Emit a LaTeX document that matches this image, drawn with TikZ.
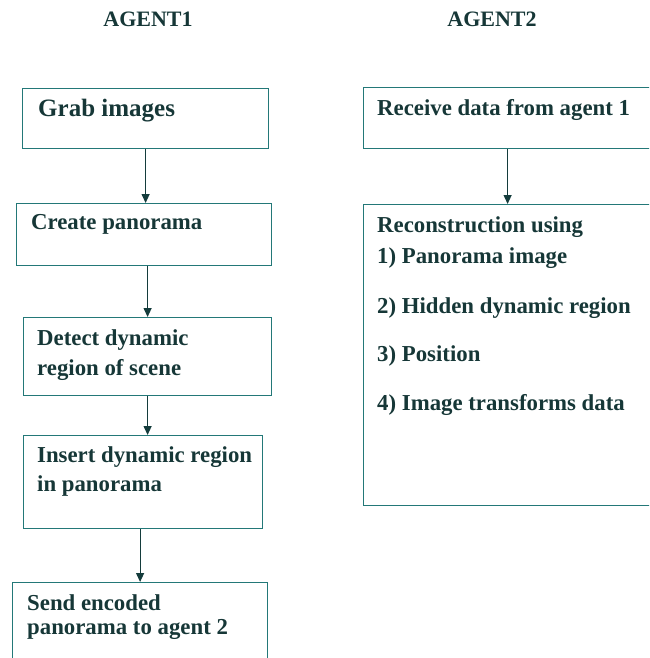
\documentclass[tikz,border=0pt]{standalone}
\usepackage{fontspec}
\setmainfont{Liberation Serif}
\usetikzlibrary{arrows.meta}
\definecolor{boxline}{RGB}{35,120,120}
\definecolor{inktext}{RGB}{22,55,55}
\definecolor{inkarrow}{RGB}{20,60,60}
\tikzset{
  box/.style={draw=boxline,line width=1.2pt,anchor=north west,inner sep=0pt},
  txt/.style={anchor=base west,inner sep=0pt,text=inktext,font=\fontsize{22.8}{26}\selectfont\bfseries},
  head/.style={anchor=base,inner sep=0pt,text=inktext,font=\fontsize{22}{26}\selectfont\bfseries},
  flow/.style={draw=inkarrow,line width=1.2pt,-{Triangle[width=8pt,length=9pt]}}
}
\begin{document}
\begin{tikzpicture}[x=1pt,y=-1pt]
  \useasboundingbox (0,0) rectangle (649,658);
  \clip (0,0) rectangle (649,658);
  \node[head] (agentone) at (148,27) {AGENT1};
  \node[head] (agenttwo) at (492,27) {AGENT2};
  % agent 1
  \node[box,minimum width=246pt,minimum height=60pt] (grab) at (22,88) {};
  \node[box,minimum width=255pt,minimum height=62pt] (create) at (16,203) {};
  \node[box,minimum width=248pt,minimum height=78pt] (detect) at (23,317) {};
  \node[box,minimum width=239pt,minimum height=93pt] (insert) at (23,435) {};
  \node[box,minimum width=255pt,minimum height=95pt] (send) at (12,582) {};
  \node[txt,font=\fontsize{25}{29}\selectfont\bfseries] (grabtxt) at (38,117) {Grab images};
  \node[txt] (createtxt) at (31,229) {Create panorama};
  \node[txt] (detecta) at (37,345) {Detect dynamic};
  \node[txt] (detectb) at (37,375) {region of scene};
  \node[txt] (inserta) at (37,462) {Insert dynamic region};
  \node[txt] (insertb) at (37,491) {in panorama};
  \node[txt] (senda) at (27,610) {Send encoded};
  \node[txt] (sendb) at (27,634) {panorama to agent 2};
  \draw[flow] (grab.south) -- (grab.south |- create.north);
  \draw[flow] (create.south -| detect.north) -- (detect.north);
  \draw[flow] (detect.south) -- (detect.south |- insert.north);
  \draw[flow] (insert.south -| send.north) -- (send.north);
  % agent 2
  \node[box,minimum width=288pt,minimum height=61pt] (recv) at (363,87) {};
  \node[box,minimum width=288pt,minimum height=301pt] (recon) at (363,204) {};
  \node[txt] (recvtxt) at (377,116) {Receive data from agent 1};
  \node[txt] (recona) at (377,232) {Reconstruction using};
  \node[txt] (reconb) at (377,263) {1) Panorama image};
  \node[txt] (reconc) at (377,313) {2) Hidden dynamic region};
  \node[txt] (recond) at (377,361) {3) Position};
  \node[txt] (recone) at (377,410) {4) Image transforms data};
  \draw[flow] (recv.south) -- (recon.north);
\end{tikzpicture}
\end{document}
